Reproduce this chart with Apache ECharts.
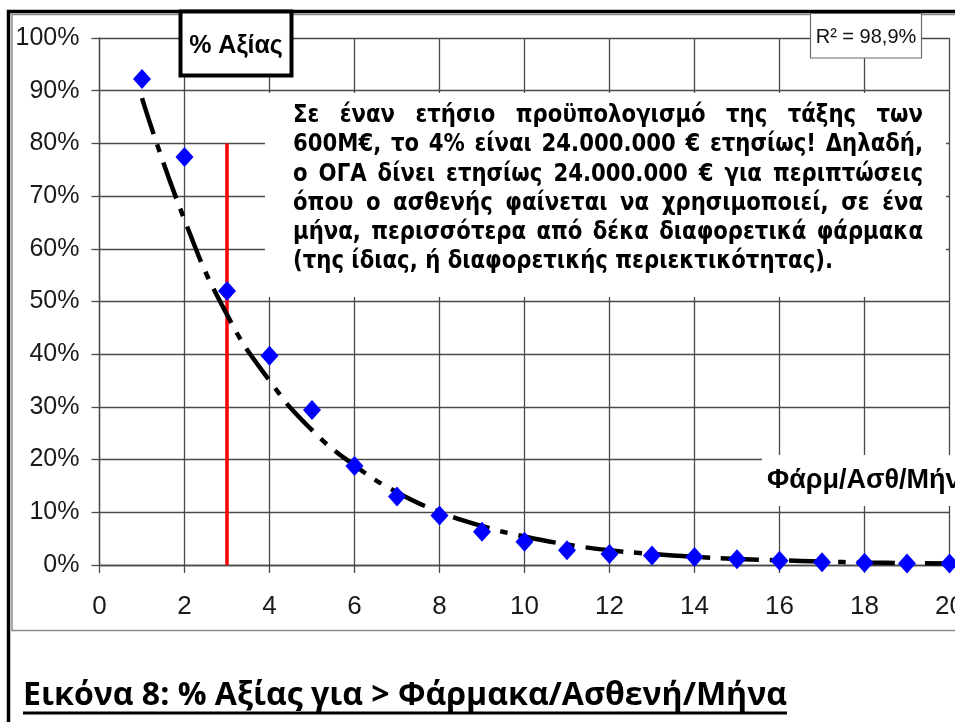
<!DOCTYPE html>
<html><head><meta charset="utf-8">
<script src="https://cdn.jsdelivr.net/npm/echarts/dist/echarts.min.js"></script>
<style>html,body{margin:0;padding:0;background:#fff}#c{width:955px;height:722px}</style>
</head><body><div id="c"></div>
<script>
// ---- data ----
const drugsPerPatient = [1, 2, 3, 4, 5, 6, 7, 8, 9, 10, 11, 12, 13, 14, 15, 16, 17, 18, 19, 20];
const valueShare = [92.2, 77.4, 52.0, 39.7, 29.4, 18.8, 13.0, 9.4, 6.3, 4.4, 2.8, 2.1, 1.8, 1.5, 1.1, 0.8, 0.5, 0.45, 0.3, 0.3];
const trendShare = [88.6, 65.5, 47.5, 35.0, 25.6, 18.9, 13.8, 10.1, 7.4, 5.4, 3.9, 2.8, 2.1, 1.55, 1.15, 0.9, 0.65, 0.47, 0.36, 0.3];
const markerLineX = [3, 3];
const markerLineY = [0, 80];
const xAxisRange = [0, 20];
const xAxisStep = 2;
const yAxisRange = [0, 100];
const yAxisStep = 10;
const yAxisTitle = '% Αξίας';
const xAxisTitle = 'Φάρμ/Ασθ/Μήν';
const rSquaredLabel = 'R² = 98,9%';
const annotationLines = [
  'Σε έναν ετήσιο προϋπολογισμό της τάξης των',
  '600Μ€, το 4% είναι 24.000.000 € ετησίως! Δηλαδή,',
  'ο ΟΓΑ δίνει ετησίως 24.000.000 € για περιπτώσεις',
  'όπου ο ασθενής φαίνεται να χρησιμοποιεί, σε ένα',
  'μήνα, περισσότερα από δέκα διαφορετικά φάρμακα',
  '(της ίδιας, ή διαφορετικής περιεκτικότητας).'
];
const captionText = 'Εικόνα 8: % Αξίας για > Φάρμακα/Ασθενή/Μήνα';

// ---- helpers ----
const mctx = document.createElement('canvas').getContext('2d');
function measure(text, weight, size, family) {
  mctx.font = weight + ' ' + size + 'px ' + family;
  return mctx.measureText(text).width;
}

const gridCol = '#4a4a4a';
const labelFont = "'Liberation Sans', Arial, sans-serif";
const annFam = "'DejaVu Sans', sans-serif";

// annotation font: fixed size, horizontally scaled so the last line matches the reference width
const annSize = 24;
const annScale = Math.min(1, 540 / measure(annotationLines[annotationLines.length - 1], 'bold', annSize, annFam));

const graphics = [];
// outer frames
graphics.push({ type: 'rect', z: 100, shape: { x: 12, y: 14.5, width: 960, height: 616 }, style: { fill: null, stroke: '#8a8a8a', lineWidth: 1.5 } });
graphics.push({ type: 'polyline', z: 101, shape: { points: [[8.5, 730], [8.5, 11.5], [970, 11.5]] }, style: { fill: null, stroke: '#000', lineWidth: 3.5 } });
// annotation white box
graphics.push({ type: 'rect', z: 100, shape: { x: 265, y: 93, width: 681, height: 204 }, style: { fill: '#fff' } });
const annLeft = 293, annWidth = 630, annTop = 116, annStep = 29.2;
annotationLines.forEach((line, i) => {
  const y = annTop + annStep * i;
  const words = line.split(' ');
  const ws = words.map(w => measure(w, 'bold', annSize, annFam) * annScale);
  const spaceW = measure(' ', 'bold', annSize, annFam) * annScale;
  const total = ws.reduce((a, b) => a + b, 0);
  const last = i === annotationLines.length - 1;
  const gap = (!last && words.length > 1) ? (annWidth - total) / (words.length - 1) : spaceW;
  let x = annLeft;
  words.forEach((w, k) => {
    graphics.push({ type: 'text', z: 102, x: x, y: y, scaleX: annScale, style: { text: w, fontSize: annSize, fontWeight: 'bold', fontFamily: annFam, fill: '#000', align: 'left', verticalAlign: 'middle' } });
    x += ws[k] + gap;
  });
});
// y-axis title box
graphics.push({ type: 'rect', z: 103, shape: { x: 180.5, y: 11.5, width: 111, height: 64 }, style: { fill: '#fff', stroke: '#000', lineWidth: 4 } });
graphics.push({ type: 'text', z: 104, x: 236, y: 46, style: { text: yAxisTitle, fontSize: 25, fontWeight: 'bold', fontFamily: labelFont, fill: '#000', align: 'center', verticalAlign: 'middle' } });
// R² box
graphics.push({ type: 'rect', z: 103, shape: { x: 810.5, y: 13.5, width: 111, height: 44.5 }, style: { fill: '#fff', stroke: '#6a6a6a', lineWidth: 1.2 } });
graphics.push({ type: 'text', z: 104, x: 866, y: 37, style: { text: rSquaredLabel, fontSize: 20, fontFamily: labelFont, fill: '#111', align: 'center', verticalAlign: 'middle' } });
// x-axis title
graphics.push({ type: 'rect', z: 100, shape: { x: 762, y: 455, width: 200, height: 51 }, style: { fill: '#fff' } });
graphics.push({ type: 'text', z: 104, x: 767, y: 481, style: { text: xAxisTitle, fontSize: 27, fontWeight: 'bold', fontFamily: labelFont, fill: '#000', align: 'left', verticalAlign: 'middle' } });
// caption
const capFam = "'Open Sans', 'Noto Sans', sans-serif";
const capSize = 33;
const capScale = 764 / measure(captionText, 'bold', capSize, capFam);
graphics.push({ type: 'text', z: 104, x: 23, y: 696, scaleX: capScale, style: { text: captionText, fontSize: capSize, fontWeight: 'bold', fontFamily: capFam, fill: '#000', align: 'left', verticalAlign: 'middle' } });
graphics.push({ type: 'line', z: 104, shape: { x1: 23, y1: 713, x2: 787, y2: 713 }, style: { stroke: '#000', lineWidth: 3 } });

const axisLineStyle = { color: gridCol, width: 1.3 };
const chart = echarts.init(document.getElementById('c'));
chart.setOption({
  backgroundColor: '#fff',
  animation: false,
  grid: { left: 99.5, right: 5.5, top: 38, bottom: 157, outerBoundsMode: 'none', containLabel: false },
  xAxis: {
    type: 'value', min: xAxisRange[0], max: xAxisRange[1], interval: xAxisStep,
    axisLine: { show: true, onZero: false, lineStyle: axisLineStyle },
    axisTick: { show: true, length: 8, lineStyle: axisLineStyle },
    axisLabel: { fontSize: 26, color: '#1a1a1a', margin: 29, fontFamily: labelFont, showMaxLabel: true },
    splitLine: { show: true, lineStyle: axisLineStyle }
  },
  yAxis: {
    type: 'value', min: yAxisRange[0], max: yAxisRange[1], interval: yAxisStep,
    axisLine: { show: true, onZero: false, lineStyle: axisLineStyle },
    axisTick: { show: true, length: 8, lineStyle: axisLineStyle },
    axisLabel: { fontSize: 25, color: '#1a1a1a', margin: 20, fontFamily: labelFont, formatter: '{value}%' },
    splitLine: { show: true, lineStyle: axisLineStyle }
  },
  series: [
    {
      type: 'line', z: 2, symbol: 'none', silent: true,
      data: markerLineX.map((x, i) => [x, markerLineY[i]]),
      lineStyle: { color: '#ff0000', width: 3.5 }
    },
    {
      type: 'line', z: 3, symbol: 'none', smooth: true, silent: true,
      data: drugsPerPatient.map((x, i) => [x, trendShare[i]]),
      lineStyle: { color: '#000', width: 4.5, type: [38, 11, 8, 11], cap: 'butt' }
    },
    {
      type: 'scatter', z: 4, symbol: 'diamond', symbolSize: [18, 20],
      data: drugsPerPatient.map((x, i) => [x, valueShare[i]]),
      itemStyle: { color: '#0000ff', opacity: 1 }
    }
  ],
  graphic: graphics
});
</script>
</body></html>
